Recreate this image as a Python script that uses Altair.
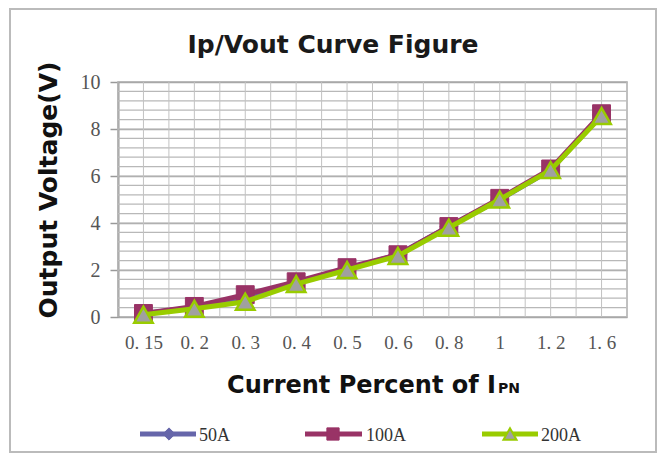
import altair as alt
import pandas as pd

# ---------------- data ----------------
categories = ["0.15", "0.2", "0.3", "0.4", "0.5", "0.6", "0.8", "1", "1.2", "1.6"]
series_names = ["50A", "100A", "200A"]
v50 = [0.15, 0.40, 0.85, 1.45, 2.05, 2.65, 3.85, 5.00, 6.25, 8.60]
v100 = [0.15, 0.45, 0.95, 1.50, 2.10, 2.65, 3.85, 5.05, 6.30, 8.65]
v200 = [0.10, 0.35, 0.65, 1.40, 2.00, 2.60, 3.80, 5.00, 6.25, 8.55]
series_values = [v50, v100, v200]
y_ticks = [0, 2, 4, 6, 8, 10]
y_minor = [round(0.4 * i, 1) for i in range(1, 25)]
x_grid = [i * 0.5 - 0.5 for i in range(21)]

# ---------------- style ----------------
line_colors = ["#6666aa", "#993366", "#99cc00"]
fill_colors = ["#6666aa", "#993366", "#a0a0a0"]
shapes = ["diamond", "square", "triangle-up"]

rows = []
for name, vals in zip(series_names, series_values):
    for i, (c, v) in enumerate(zip(categories, vals)):
        rows.append({"series": name, "idx": i, "cat": c, "value": v})
df = pd.DataFrame(rows)

W, H = 509, 235
label_array = "[" + ",".join("'" + c.replace(".", ". ") + "'" for c in categories) + "]"

x_scale = alt.Scale(domain=[-0.5, len(categories) - 0.5], nice=False, zero=False)
y_scale = alt.Scale(domain=[0, 10], nice=False)

x_axis = alt.Axis(
    values=list(range(len(categories))),
    labelExpr=label_array + "[datum.value]",
    grid=False, ticks=False, tickSize=0, domain=False,
    labelFont="Liberation Serif", labelFontSize=19, labelColor="#555555",
    labelPadding=25, labelBaseline="middle", title=None,
)
y_axis = alt.Axis(
    values=y_ticks, grid=True, gridColor="#a8a8a8", gridWidth=1.5,
    ticks=True, tickSize=8, tickColor="#999999", tickWidth=1.5,
    domain=True, domainColor="#999999", domainWidth=2,
    labelFont="Liberation Serif", labelFontSize=20, labelColor="#555555",
    labelPadding=10, title=None,
)

base = alt.Chart(df)

# minor grid (horizontal and vertical)
minor_y = alt.Chart(pd.DataFrame({"yv": y_minor})).mark_rule(
    color="#b8b8b8", strokeWidth=1.2
).encode(
    y=alt.Y("yv:Q", scale=y_scale, axis=y_axis),
    x=alt.value(0), x2=alt.value(W),
)
grid_x = alt.Chart(pd.DataFrame({"xv": x_grid})).mark_rule(
    color="#c2c2c2", strokeWidth=1
).encode(
    x=alt.X("xv:Q", scale=x_scale, axis=x_axis),
    y=alt.value(0), y2=alt.value(H),
)

layers = [minor_y, grid_x]
for i, name in enumerate(series_names):
    sub = base.transform_filter(alt.datum.series == name)
    layers.append(
        sub.mark_line(strokeWidth=5, color=line_colors[i]).encode(
            x=alt.X("idx:Q", scale=x_scale, axis=x_axis),
            y=alt.Y("value:Q", scale=y_scale, axis=y_axis),
        )
    )
    layers.append(
        sub.mark_point(
            shape=shapes[i], size=320 if i < 2 else 340, filled=True,
            fill=fill_colors[i], stroke=line_colors[i],
            strokeWidth=2.5 if i == 2 else 1, opacity=1,
        ).encode(
            x=alt.X("idx:Q", scale=x_scale, axis=x_axis),
            y=alt.Y("value:Q", scale=y_scale, axis=y_axis),
        )
    )

# ---------------- texts ----------------
one = pd.DataFrame({"a": [0]})
ox, oy = 118, 82  # plot origin in page pixels

def txt(t, x, y, **kw):
    return alt.Chart(one).mark_text(text=t, **kw).encode(
        x=alt.value(x - ox), y=alt.value(y - oy)
    )

title = txt("Ip/Vout Curve Figure", 333, 53, font="DejaVu Sans", fontSize=25,
            fontWeight="bold", color="#1a1a1a", align="center", baseline="alphabetic")
ytitle = txt("Output Voltage(V)", 57, 190, font="DejaVu Sans", fontSize=25,
             fontWeight="bold", color="#111111", align="center", baseline="alphabetic", angle=270)
xtitle = txt("Current Percent of I", 496, 393, font="DejaVu Sans", fontSize=24,
             fontWeight="bold", color="#111111", align="right", baseline="alphabetic")
xsub = txt("PN", 498, 393, font="DejaVu Sans", fontSize=14,
           fontWeight="bold", color="#111111", align="left", baseline="alphabetic")
layers += [title, ytitle, xtitle, xsub]

# ---------------- manual legend ----------------
leg_y = 434
leg_specs = [(140, 196, 169, 199), (305, 362, 333, 366), (482, 538, 510, 541)]
for i, name in enumerate(series_names):
    x0, x1, xm, xt = leg_specs[i]
    layers.append(
        alt.Chart(one).mark_rule(color=line_colors[i], strokeWidth=5).encode(
            x=alt.value(x0 - ox), x2=alt.value(x1 - ox), y=alt.value(leg_y - oy)
        )
    )
    layers.append(
        alt.Chart(one).mark_point(
            shape=shapes[i], size=150 if i < 2 else 170, filled=True,
            fill=fill_colors[i], stroke=line_colors[i],
            strokeWidth=2 if i == 2 else 1, opacity=1,
        ).encode(x=alt.value(xm - ox), y=alt.value(leg_y - oy))
    )
    layers.append(txt(name, xt, leg_y + 2, font="Liberation Serif", fontSize=18,
                      color="#333333", align="left", baseline="middle"))

# outer border
border = alt.Chart(one).mark_rect(fill="transparent", stroke="#bbbbbb", strokeWidth=2).encode(
    x=alt.value(10 - ox), x2=alt.value(656 - ox), y=alt.value(9 - oy), y2=alt.value(452 - oy)
)
layers.append(border)

chart = alt.layer(*layers).properties(
    width=W, height=H,
    padding={"left": 110, "top": 74, "right": 31, "bottom": 137},
    autosize="none",
    background="white",
).configure_view(stroke="#aaaaaa", strokeWidth=1.5)

chart.save("out.html", embed_options={"renderer": "svg", "actions": False})
